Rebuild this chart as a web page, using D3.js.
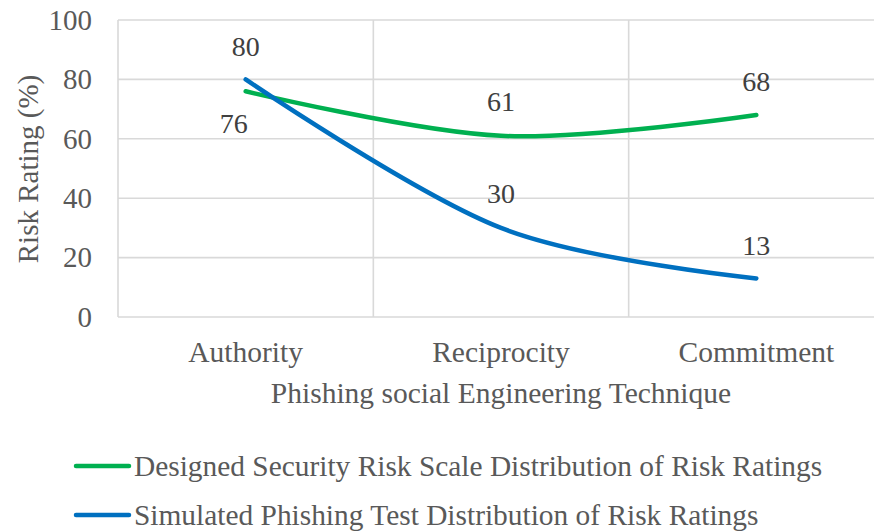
<!DOCTYPE html>
<html>
<head>
<meta charset="utf-8">
<script src="https://cdn.jsdelivr.net/npm/d3@7"></script>
</head>
<body style="margin:0;padding:0;background:#ffffff">
<svg id="chart" width="874" height="531" style="display:block"></svg>
<script>
// ---- data ----
const categories = ["Authority", "Reciprocity", "Commitment"];
const designedValues = [76, 61, 68];
const simulatedValues = [80, 30, 13];
const seriesNames = [
  "Designed Security Risk Scale Distribution of Risk Ratings",
  "Simulated Phishing Test Distribution of Risk Ratings"
];
const yTicks = [0, 20, 40, 60, 80, 100];
const yAxisTitle = "Risk Rating (%)";
const xAxisTitle = "Phishing social Engineering Technique";

// ---- layout / style ----
const plotLeft = 118, plotRight = 884, plotTop = 20, plotBottom = 317;
const colors = ["#00B050", "#0070C0"];
const axisTextColor = "#595959";
const labelTextColor = "#404040";
const gridColor = "#d9d9d9";
const fontSize = 29.5;
const FONT = "Liberation Serif";

const svg = d3.select("#chart");

const x = d3.scaleBand().domain(categories).range([plotLeft, plotRight]).padding(0);
const y = d3.scaleLinear().domain([0, 100]).range([plotBottom, plotTop]);
const cx = c => x(c) + x.bandwidth() / 2;

// gridlines horizontal
svg.append("g").selectAll("line").data(yTicks).join("line")
  .attr("x1", plotLeft).attr("x2", plotRight)
  .attr("y1", d => y(d)).attr("y2", d => y(d))
  .attr("stroke", gridColor).attr("stroke-width", 1.6);

// vertical gridlines at band boundaries
const bounds = categories.map(c => x(c)).concat([x(categories[categories.length - 1]) + x.bandwidth()]);
svg.append("g").selectAll("line").data(bounds).join("line")
  .attr("x1", d => d).attr("x2", d => d)
  .attr("y1", y(100)).attr("y2", y(0))
  .attr("stroke", gridColor).attr("stroke-width", 1.6);

// y tick labels
svg.append("g").selectAll("text").data(yTicks).join("text")
  .attr("x", 92).attr("y", d => y(d))
  .attr("dy", "0.34em")
  .attr("text-anchor", "end")
  .style("font-family", FONT)
  .style("font-size", "29px")
  .attr("fill", axisTextColor)
  .text(d => d);

// x category labels
svg.append("g").selectAll("text").data(categories).join("text")
  .attr("x", d => cx(d)).attr("y", 352)
  .attr("dy", "0.34em")
  .attr("text-anchor", "middle")
  .style("font-family", FONT)
  .style("font-size", fontSize + "px")
  .attr("fill", axisTextColor)
  .text(d => d);

// axis titles
svg.append("text")
  .attr("transform", "translate(28,169) rotate(-90)")
  .attr("dy", "0.34em")
  .attr("text-anchor", "middle")
  .style("font-family", FONT)
  .style("font-size", "29px")
  .attr("fill", axisTextColor)
  .text(yAxisTitle);

svg.append("text")
  .attr("x", 501).attr("y", 393)
  .attr("dy", "0.34em")
  .attr("text-anchor", "middle")
  .style("font-family", FONT)
  .style("font-size", fontSize + "px")
  .attr("fill", axisTextColor)
  .text(xAxisTitle);

// lines
const series = [designedValues, simulatedValues];
const line = d3.line()
  .x((d, i) => cx(categories[i]))
  .y(d => y(d))
  .curve(d3.curveCardinal.tension(0));

svg.append("g").selectAll("path").data(series).join("path")
  .attr("d", d => line(d))
  .attr("fill", "none")
  .attr("stroke", (d, i) => colors[i])
  .attr("stroke-width", 4.5)
  .attr("stroke-linecap", "round")
  .attr("stroke-linejoin", "round");

// data labels (offsets are styling, not data)
const labelOffsets = [
  [[-12, 32], [0, -34], [0, -34]],
  [[0, -33], [0, -34], [0, -33]]
];
series.forEach((vals, si) => {
  svg.append("g").selectAll("text").data(vals).join("text")
    .attr("x", (d, i) => cx(categories[i]) + labelOffsets[si][i][0])
    .attr("y", (d, i) => y(d) + labelOffsets[si][i][1])
    .attr("dy", "0.34em")
    .attr("text-anchor", "middle")
    .style("font-family", FONT)
    .style("font-size", "28px")
    .attr("fill", labelTextColor)
    .text(d => d);
});

// legend
const legendY = [466, 515];
const lg = svg.append("g");
seriesNames.forEach((name, i) => {
  lg.append("line")
    .attr("x1", 76).attr("x2", 129)
    .attr("y1", legendY[i]).attr("y2", legendY[i])
    .attr("stroke", colors[i]).attr("stroke-width", 4.5)
    .attr("stroke-linecap", "round");
  lg.append("text")
    .attr("x", 134).attr("y", legendY[i])
    .attr("dy", "0.34em")
    .style("font-family", FONT)
    .style("font-size", "29.4px")
    .attr("fill", axisTextColor)
    .text(name);
});
</script>
</body>
</html>
